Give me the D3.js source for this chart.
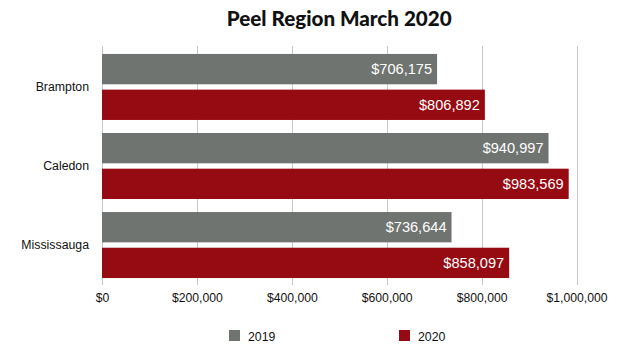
<!DOCTYPE html>
<html>
<head>
<meta charset="utf-8">
<script src="https://cdn.jsdelivr.net/npm/d3@7"></script>
<style>
  html, body { margin: 0; padding: 0; background: #fff; }
  svg { display: block; }
</style>
</head>
<body>
<svg id="chart" width="619" height="355"></svg>
<script>
const title = "Peel Region March 2020";
const categories = ["Brampton", "Caledon", "Mississauga"];
const seriesNames = ["2019", "2020"];
const values2019 = [706175, 940997, 736644];
const values2020 = [806892, 983569, 858097];
const tickValues = [0, 200000, 400000, 600000, 800000, 1000000];
const colors = ["#6f7471", "#960a12"];

const svg = d3.select("#chart");
const W = 619, H = 355;
const left = 102, right = 576.5, gridTop = 46, gridBottom = 285;

const x = d3.scaleLinear().domain([0, 1000000]).range([left, right]);
const y = d3.scaleBand().domain(categories).range([50, 282]).paddingInner(0.165).paddingOuter(0.05);
const ySub = d3.scaleBand().domain(seriesNames).range([0, y.bandwidth()]).paddingInner(0.15);

const seriesValues = [values2019, values2020];
const fmt = v => "$" + d3.format(",")(v);

// title
svg.append("text")
  .attr("x", (left + right) / 2).attr("y", 26)
  .attr("text-anchor", "middle")
  .attr("font-family", "Lato, sans-serif")
  .attr("font-weight", 900)
  .attr("font-size", 20.6)
  .attr("fill", "#111")
  .text(title);

// gridlines
svg.append("g").selectAll("line").data(tickValues).join("line")
  .attr("x1", d => Math.round(x(d)) + 0.5).attr("x2", d => Math.round(x(d)) + 0.5)
  .attr("y1", gridTop).attr("y2", gridBottom)
  .attr("stroke", "#c8c8c8").attr("stroke-width", 1);

// x axis labels
const xAxis = d3.axisBottom(x).tickValues(tickValues).tickFormat(fmt).tickSize(0).tickPadding(0);
const gx = svg.append("g").attr("transform", `translate(0, 290)`).call(xAxis);
gx.select(".domain").remove();
gx.selectAll("text")
  .attr("font-family", "Liberation Sans, Arial, sans-serif")
  .attr("font-size", 12.2)
  .attr("fill", "#111")
  .attr("dy", "0.95em");

// y labels
const yAxis = d3.axisLeft(y).tickSize(0).tickPadding(0);
const gy = svg.append("g").attr("transform", `translate(89, 0)`).call(yAxis);
gy.select(".domain").remove();
gy.selectAll("text")
  .attr("font-family", "Liberation Sans, Arial, sans-serif")
  .attr("font-size", 12.3)
  .attr("fill", "#111")
  .attr("dy", "0.36em");

// bars
const groups = svg.append("g").selectAll("g").data(categories).join("g")
  .attr("transform", d => `translate(0, ${y(d)})`);

groups.each(function(cat, ci) {
  const g = d3.select(this);
  seriesNames.forEach((s, si) => {
    const v = seriesValues[si][ci];
    g.append("rect")
      .attr("x", x(0))
      .attr("y", ySub(s))
      .attr("width", x(v) - x(0))
      .attr("height", ySub.bandwidth())
      .attr("fill", colors[si]);
    g.append("text")
      .attr("x", x(v) - 5)
      .attr("y", ySub(s) + ySub.bandwidth() / 2)
      .attr("dy", "0.36em")
      .attr("text-anchor", "end")
      .attr("font-family", "Liberation Sans, Arial, sans-serif")
      .attr("font-size", 14.6)
      .attr("fill", "#fff")
      .text(fmt(v));
  });
});

// legend
const legendX = [229, 399];
const leg = svg.append("g").selectAll("g").data(seriesNames).join("g")
  .attr("transform", (d, i) => `translate(${legendX[i]}, 330)`);
leg.append("rect").attr("width", 11).attr("height", 11).attr("fill", (d, i) => colors[i]);
leg.append("text")
  .attr("x", 19).attr("y", 10.5)
  .attr("font-family", "Liberation Sans, Arial, sans-serif")
  .attr("font-size", 12.3)
  .attr("fill", "#111")
  .text(d => d);
</script>
</body>
</html>
